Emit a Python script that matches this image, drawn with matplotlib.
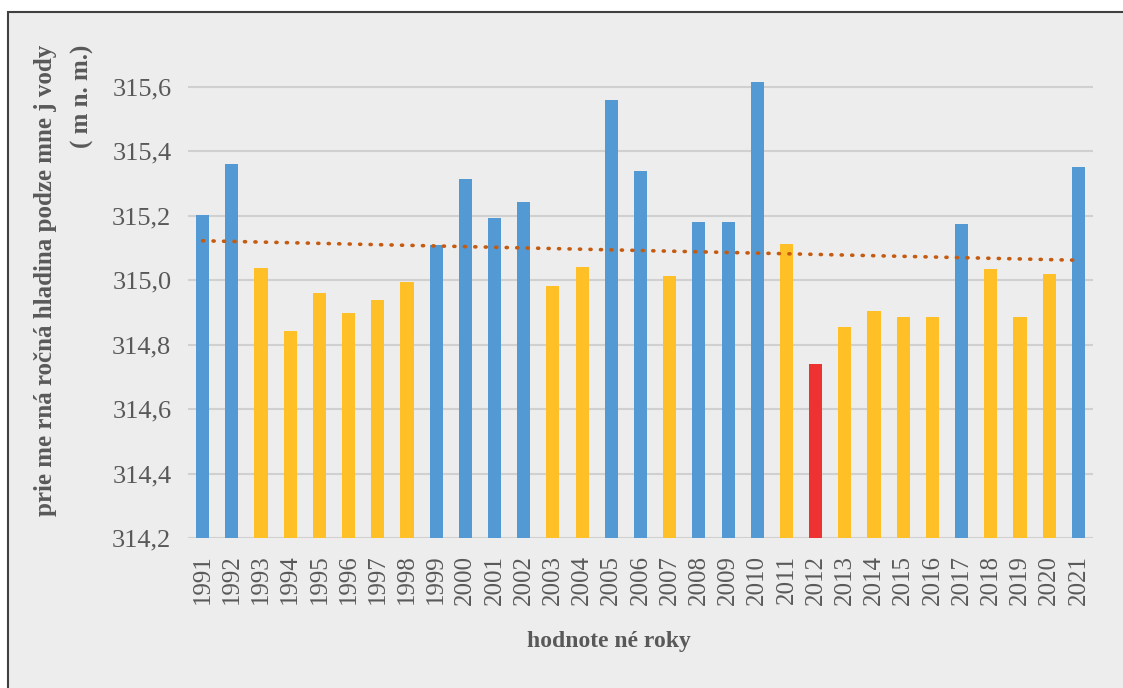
import matplotlib
matplotlib.use("Agg")
import matplotlib.pyplot as plt
import matplotlib.patches as mpatches
import numpy as np

years = list(range(1991, 2022))
levels = [315.203, 315.361, 315.038, 314.843, 314.961, 314.899, 314.939, 314.995,
          315.110, 315.315, 315.193, 315.243, 314.982, 315.041, 315.560, 315.339,
          315.013, 315.181, 315.181, 315.616, 315.113, 314.740, 314.855, 314.905,
          314.886, 314.886, 315.175, 315.035, 314.886, 315.020, 315.352]
# a = above, b = below, m = minimum
classes = ["a", "a", "b", "b", "b", "b", "b", "b", "a", "a", "a", "a", "b", "b", "a", "a",
           "b", "a", "a", "a", "b", "m", "b", "b", "b", "b", "a", "b", "b", "b", "a"]
yticks = [314.2, 314.4, 314.6, 314.8, 315.0, 315.2, 315.4, 315.6]

class_colors = {"a": "#5399D4", "b": "#FFBF27", "m": "#EE3131"}
text_color = "#595959"
font = "Liberation Serif"

fig = plt.figure(figsize=(11.23, 6.88), dpi=100)
fig.patch.set_facecolor("white")
W, H = 1123, 688
frame = mpatches.Rectangle((8 / W, -0.01), (W - 8 + 10) / W, (H - 12) / H + 0.01,
                           transform=fig.transFigure, facecolor="#EDEDED",
                           edgecolor="#404040", linewidth=1.5, zorder=-10)
fig.patches.append(frame)

# axes top a bit above the 315,6 gridline so the tallest bar is not cut
ax_top = 70
ax = fig.add_axes([188 / W, (H - 538) / H, (1093 - 188) / W, (538 - ax_top) / H])
ax.set_facecolor("none")

x = np.arange(len(years))
ax.bar(x, np.array(levels) - yticks[0], bottom=yticks[0], width=0.45,
       color=[class_colors[c] for c in classes], zorder=3)

# linear trend
k, q = np.polyfit(x, levels, 1)
ax.plot(x, k * x + q, color="#C55A11", linewidth=2.6,
        linestyle=(0, (0.3, 2.6)), dash_capstyle="round", zorder=4)

px_per_unit = (538 - 87) / (yticks[-1] - yticks[0])
ax.set_xlim(-0.5, len(years) - 0.5)
ax.set_ylim(yticks[0], yticks[0] + (538 - ax_top) / px_per_unit)
ax.set_yticks(yticks)
ax.set_yticklabels([f"{v:.1f}".replace(".", ",") for v in yticks],
                   fontsize=19, color=text_color, family=font)
ax.set_xticks(x)
ax.set_xticklabels([str(y) for y in years], rotation=90, fontsize=18,
                   color=text_color, family=font)
ax.tick_params(axis="x", length=0, pad=12)
ax.tick_params(axis="y", length=0, pad=12)
ax.grid(axis="y", color="#D0D0D0", linewidth=1.5, zorder=0)
for s in ax.spines.values():
    s.set_visible(False)

fig.text(64 / W, 1 - 280 / H,
         "prie me rná ročná hladina podze mne j vody\n( m n. m.)",
         rotation=90, ha="center", va="center", fontsize=18, fontweight="bold",
         color=text_color, family=font, linespacing=1.7, multialignment="right")
fig.text(609 / W, 1 - 641 / H, "hodnote né roky", ha="center", va="center",
         fontsize=17, fontweight="bold", color=text_color, family=font)

fig.savefig("out.png", dpi=100, facecolor=fig.get_facecolor())
